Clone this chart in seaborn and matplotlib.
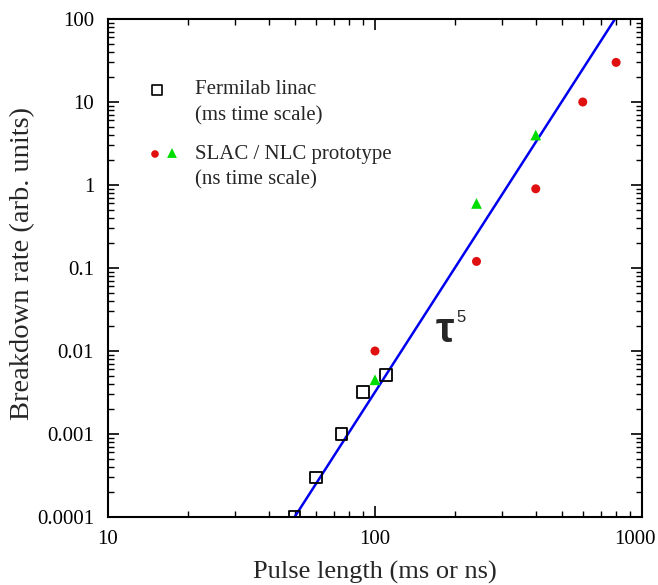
import numpy as np
import pandas as pd
import matplotlib
matplotlib.use("Agg")
import matplotlib.pyplot as plt
import matplotlib.transforms as mtransforms
import seaborn as sns
from matplotlib.ticker import LogLocator, NullFormatter, FixedLocator, FixedFormatter

# Data
fermi_x = [50, 60, 75, 90, 110]
fermi_y = [0.0001, 0.0003, 0.001, 0.0032, 0.0051]
slac_red_x = [100, 240, 400, 600, 800]
slac_red_y = [0.01, 0.12, 0.9, 10, 30]
slac_green_x = [100, 240, 400]
slac_green_y = [0.0045, 0.6, 4.0]
fit_x = [50, 792]
fit_y = [0.0001, 100]

x_ticks = [10, 100, 1000]
x_tick_labels = ["10", "100", "1000"]
y_ticks = [0.0001, 0.001, 0.01, 0.1, 1, 10, 100]
y_tick_labels = ["0.0001", "0.001", "0.01", "0.1", "1", "10", "100"]

sns.set_style("ticks")
plt.rcParams['font.family'] = ['Liberation Serif', 'DejaVu Serif']

fig = plt.figure(figsize=(6.58, 5.85), dpi=100)
ax = fig.add_axes([108/658, 1-517/585, (642-108)/658, (517-19)/585])

df_fit = pd.DataFrame({"x": fit_x, "y": fit_y})
sns.lineplot(data=df_fit, x="x", y="y", ax=ax, color="#0000ee", lw=1.8)

df_f = pd.DataFrame({"x": fermi_x, "y": fermi_y})
sns.scatterplot(data=df_f, x="x", y="y", ax=ax, marker="s", s=70,
                facecolor="none", edgecolor="black", linewidth=1.3, zorder=5)
df_r = pd.DataFrame({"x": slac_red_x, "y": slac_red_y})
sns.scatterplot(data=df_r, x="x", y="y", ax=ax, marker="o", s=42,
                color="#e01010", edgecolor="none", zorder=5)
df_g = pd.DataFrame({"x": slac_green_x, "y": slac_green_y})
sns.scatterplot(data=df_g, x="x", y="y", ax=ax, marker="^", s=60,
                color="#00dd00", edgecolor="none", zorder=5)

ax.set_xscale("log")
ax.set_yscale("log")
ax.set_xlim(10, 1000)
ax.set_ylim(0.0001, 100)

ax.xaxis.set_major_locator(FixedLocator(x_ticks))
ax.xaxis.set_major_formatter(FixedFormatter(x_tick_labels))
ax.yaxis.set_major_locator(FixedLocator(y_ticks))
ax.yaxis.set_major_formatter(FixedFormatter(y_tick_labels))
ax.xaxis.set_minor_locator(LogLocator(base=10, subs=np.arange(2, 10)))
ax.yaxis.set_minor_locator(LogLocator(base=10, subs=np.arange(2, 10)))
ax.xaxis.set_minor_formatter(NullFormatter())
ax.yaxis.set_minor_formatter(NullFormatter())

ax.tick_params(which="both", direction="in", top=True, right=True, color="black",
               labelsize=15, labelcolor="black")
ax.tick_params(which="major", length=8, width=1.2)
ax.tick_params(axis="x", which="major", pad=9)
ax.tick_params(axis="y", which="major", pad=10)
ax.tick_params(which="minor", length=4, width=1.0)
for s in ax.spines.values():
    s.set_linewidth(1.5)
    s.set_color("black")

ax.set_xlabel("Pulse length (ms or ns)", fontsize=19, labelpad=9)
ax.set_ylabel("Breakdown rate (arb. units)", fontsize=20.5)
ax.yaxis.set_label_coords((23 - 108) / 534, (517 - 264) / 498)
ax.yaxis.label.set_va("center")

# shift the "1000" label slightly left so it stays inside the figure
fig.canvas.draw()
for lbl in ax.get_xticklabels():
    if lbl.get_text() == "1000":
        lbl.set_transform(lbl.get_transform() +
                          mtransforms.ScaledTranslation(-7/100, 0, fig.dpi_scale_trans))


def px(xp, yp):
    return 10**(1 + (xp-108)/267), 10**(-4 + (517-yp)/83)


# Legend (custom)
ax.scatter(*px(157, 90), marker="s", s=50, facecolor="none",
           edgecolor="black", linewidth=1.2)
ax.text(*px(195, 90), "Fermilab linac", fontsize=15, va="center", ha="left")
ax.text(*px(195, 116), "(ms time scale)", fontsize=15, va="center", ha="left")
ax.scatter(*px(155, 154), marker="o", s=30, color="#e01010", edgecolor="none")
ax.scatter(*px(172, 153), marker="^", s=50, color="#00dd00", edgecolor="none")
ax.text(*px(195, 155), "SLAC / NLC prototype", fontsize=15, va="center", ha="left")
ax.text(*px(195, 180), "(ns time scale)", fontsize=15, va="center", ha="left")

ax.text(*px(436, 342), "τ", fontsize=30, fontweight="bold",
        family=["Liberation Sans", "DejaVu Sans"], ha="left", va="baseline")
ax.text(*px(456, 322), "5", fontsize=12, family=["Liberation Sans", "DejaVu Sans"],
        ha="left", va="baseline")

fig.savefig("out.png", dpi=100)
